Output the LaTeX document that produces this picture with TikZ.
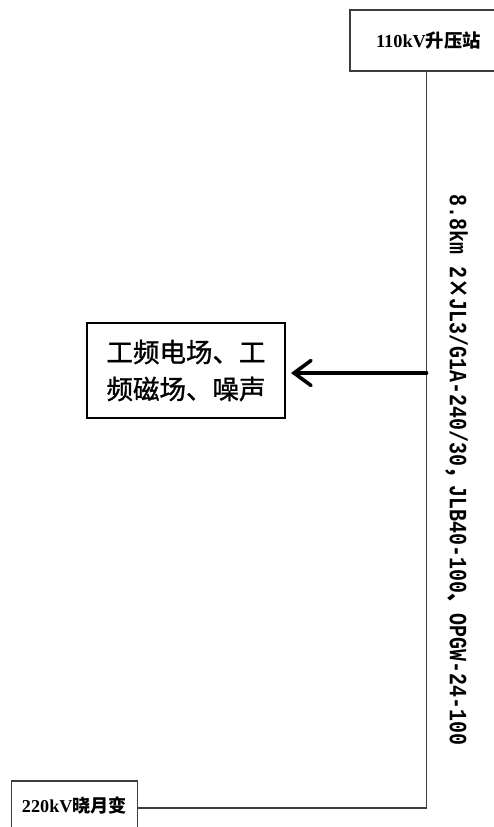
\documentclass[tikz,border=0pt]{standalone}
\usepackage{fontspec}
\setmainfont{Liberation Serif}
\newfontfamily\cjk{Noto Sans CJK SC}
\newfontfamily\cjkm[FakeBold=1.2]{Noto Sans CJK SC}
\newfontfamily\lmono{Liberation Mono}
\usetikzlibrary{arrows.meta}
\definecolor{linegray}{RGB}{60,60,60}
\tikzset{
  stationbox/.style={draw=linegray, line width=1.5pt},
  wire/.style={draw=linegray, line width=1.6pt},
  effectbox/.style={draw=black, line width=1.3pt, inner sep=0pt, minimum width=198pt, minimum height=95pt, align=center, font=\cjkm\fontsize{26.5}{37}\selectfont},
  bigarrow/.style={draw=black, line width=3.6pt, line cap=round, -{Straight Barb[length=17pt, width=25pt, line cap=round]}},
}
\begin{document}
\begin{tikzpicture}[x=1pt,y=-1pt]
\useasboundingbox (0,0) rectangle (493,827);
% top station box
\draw[stationbox] (350,10) rectangle (510,71);
\node[inner sep=0pt] (top) at (428.5,41) {\resizebox{105pt}{!}{\bfseries 110kV{\cjk\bfseries 升压站}}};
\coordinate (topbase) at (426.5,71);
% bottom station box
\draw[stationbox] (11.5,781) rectangle (137.5,840);
\node[inner sep=0pt] (bot) at (74.5,805) {\resizebox{105pt}{!}{\bfseries 220kV{\cjk\bfseries 晓月变}}};
\coordinate (botright) at (137.5,808);
\coordinate (corner) at (426.5,808);
\draw[wire] (topbase) -- (corner) -- (botright);
% rotated line label
\node[inner sep=0pt, rotate=-90] (lbl) at (457,470) {\resizebox{550pt}{18pt}{\lmono\bfseries 8.8km 2{\cjk ×}JL3/G1A-240/30{\cjk ，}JLB40-100{\cjk 、}OPGW-24-100}};
% effect box
\node[effectbox] (eff) at (186,370.5) {工频电场、工\\频磁场、噪声};
\coordinate (arrstart) at (426.5,373);
\draw[bigarrow] (arrstart) -- (291,373);
\end{tikzpicture}
\end{document}
